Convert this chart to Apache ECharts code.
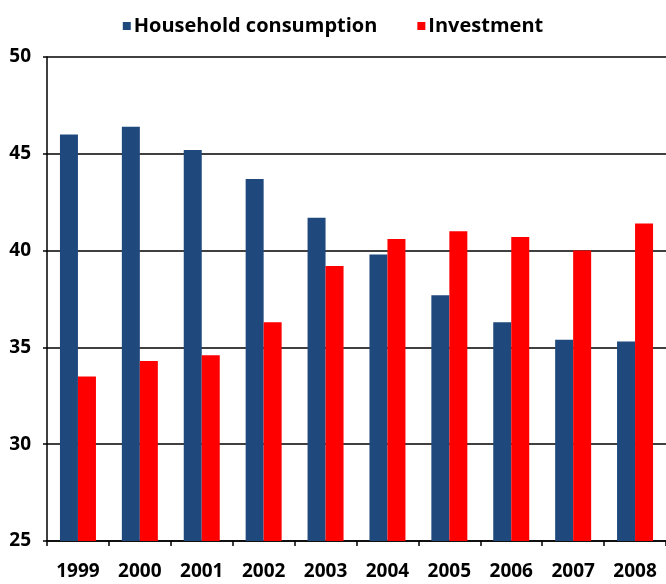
<!DOCTYPE html>
<html>
<head>
<meta charset="utf-8">
<script src="https://cdn.jsdelivr.net/npm/echarts@6/dist/echarts.min.js"></script>
<style>
  html, body { margin: 0; padding: 0; background: #fff; }
  #chart { width: 666px; height: 584px; }
</style>
</head>
<body>
<div id="chart"></div>
<script>
// data
const years = ['1999', '2000', '2001', '2002', '2003', '2004', '2005', '2006', '2007', '2008'];
const household = [46.0, 46.4, 45.2, 43.7, 41.7, 39.8, 37.7, 36.3, 35.4, 35.3];
const investment = [33.5, 34.3, 34.6, 36.3, 39.2, 40.6, 41.0, 40.7, 40.0, 41.4];

const font = 'Open Sans';

const chart = echarts.init(document.getElementById('chart'));
chart.setOption({
  animation: false,
  color: ['#1f497d', '#ff0000'],
  legend: {
    top: 11,
    left: 'center',
    itemWidth: 8,
    itemHeight: 8,
    itemGap: 40,
    icon: 'rect',
    textStyle: { fontFamily: font, fontWeight: 700, fontSize: 20, color: '#000', padding: [0, 0, 0, -2] },
    data: ['Household consumption', 'Investment']
  },
  grid: { left: 47, top: 57, width: 621, height: 484 },
  xAxis: {
    type: 'category',
    data: years,
    axisLine: { lineStyle: { color: '#000', width: 1.5 } },
    axisTick: { show: true, length: 5, lineStyle: { color: '#000', width: 1.5 } },
    axisLabel: { fontFamily: font, fontWeight: 700, fontSize: 19, color: '#000', margin: 21 }
  },
  yAxis: {
    type: 'value',
    min: 25,
    max: 50,
    interval: 5,
    axisLine: { show: true, lineStyle: { color: '#000', width: 1.5 } },
    axisTick: { show: true, length: 4, lineStyle: { color: '#000', width: 1.5 } },
    axisLabel: { fontFamily: font, fontWeight: 700, fontSize: 19, color: '#000', margin: 16 },
    splitLine: { lineStyle: { color: '#000', width: 1.5 } }
  },
  series: [
    {
      name: 'Household consumption',
      type: 'bar',
      data: household,
      barWidth: 18,
      barGap: '0%'
    },
    {
      name: 'Investment',
      type: 'bar',
      data: investment,
      barWidth: 18,
      barGap: '0%'
    }
  ]
});
</script>
</body>
</html>
